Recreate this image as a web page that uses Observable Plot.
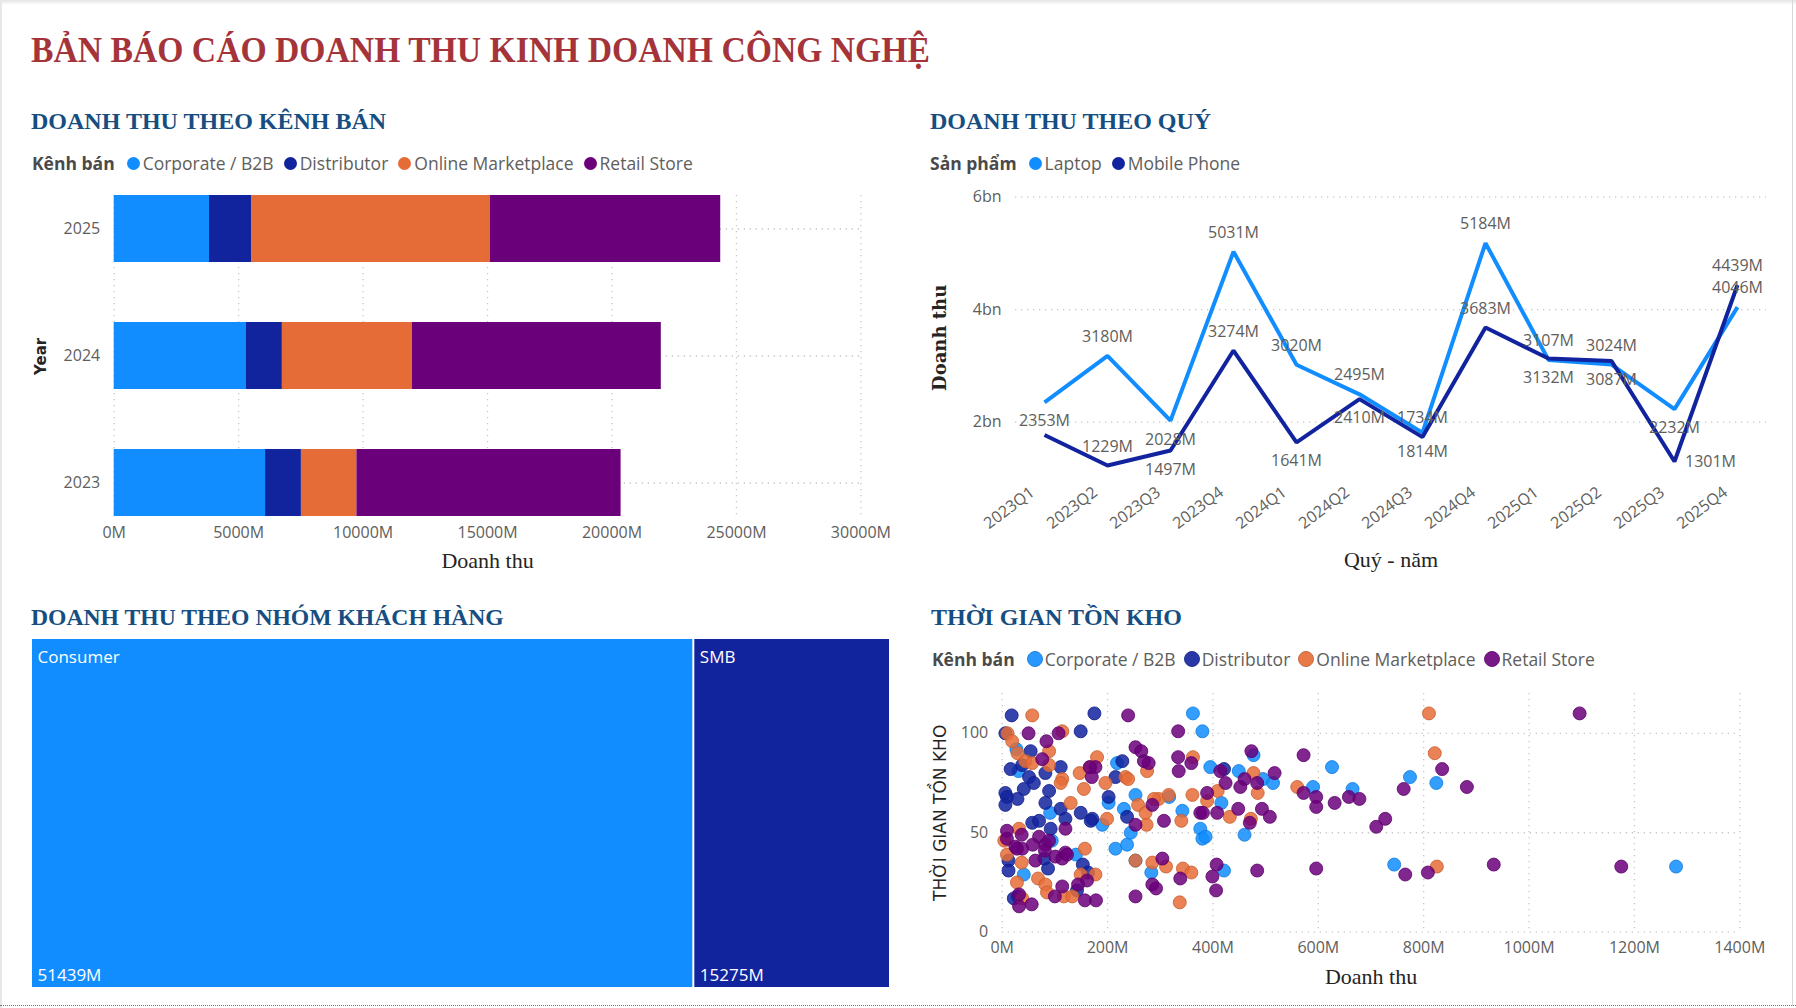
<!DOCTYPE html>
<html>
<head>
<meta charset="utf-8">
<script src="https://cdn.jsdelivr.net/npm/d3@7"></script>
<script src="https://cdn.jsdelivr.net/npm/@observablehq/plot@0.6"></script>
<style>
  html, body { margin: 0; padding: 0; background: #fff; }
  #page { position: relative; width: 1796px; height: 1008px; overflow: hidden; background: #fff;
          font-family: "Open Sans", "Noto Sans", sans-serif; }
  .abs { position: absolute; }
  .serif { font-family: "Liberation Serif", serif; font-weight: bold; white-space: nowrap; line-height: 1; }
  .main-title { color: #A4343A; font-size: 36px; transform: scaleX(0.935); transform-origin: 0 0; }
  .sec-title { color: #164E82; font-size: 24px; transform-origin: 0 0; }
  .legend { display: flex; align-items: center; height: 24px; white-space: nowrap; font-size: 17.5px; color: #605E5C; }
  .legend .lt { font-weight: bold; color: #4A4A4A; margin-right: 12px; }
  .legend .dot { border-radius: 50%; display: inline-block; flex: none; }
  .frame-l { left: 0; top: 0; width: 2px; height: 1008px; background: #E8E8E8; }
  .frame-r { left: 1792px; top: 0; width: 1px; height: 1006px; background: #D8D8D8; }
  .frame-t { left: 0; top: 0; width: 1796px; height: 5px; background: linear-gradient(#E4E4E4, #ffffff); }
  .frame-b { left: 0; top: 1005px; width: 1796px; height: 0; border-top: 1.5px dotted #777; }
</style>
</head>
<body>
<div id="page">
  <div class="abs frame-t"></div>
  <div class="abs frame-l"></div>
  <div class="abs frame-r"></div>
  <div class="abs frame-b"></div>
</div>
<script>
// ---------------- DATA ----------------
const channels = ["Corporate / B2B", "Distributor", "Online Marketplace", "Retail Store"];
const channelColors = ["#118DFF", "#12239E", "#E66C37", "#6B007B"];

// Revenue by channel and year (million)
const years = ["2025", "2024", "2023"];
const revCorporate   = [3829, 5315, 6081];
const revDistributor = [1689, 1442, 1441];
const revOnline      = [9593, 5224, 2229];
const revRetail      = [9257, 10000, 10614];
const barTicks = [0, 5000, 10000, 15000, 20000, 25000, 30000];

// Revenue by quarter (million)
const products = ["Laptop", "Mobile Phone"];
const productColors = ["#118DFF", "#12239E"];
const quarters = ["2023Q1","2023Q2","2023Q3","2023Q4","2024Q1","2024Q2","2024Q3","2024Q4","2025Q1","2025Q2","2025Q3","2025Q4"];
const laptopRevenue = [2353, 3180, 2028, 5031, 3020, 2495, 1814, 5184, 3107, 3024, 2232, 4046];
const mobileRevenue = [1773, 1229, 1497, 3274, 1641, 2410, 1734, 3683, 3132, 3087, 1301, 4439];
const laptopLabelSide = ["below","above","below","above","above","above","below","above","above","above","below","above"];
const mobileLabelSide = ["none","above","below","above","below","below","above","above","below","below","right","above"];
const lineTicks = [2000, 4000, 6000];

// Revenue by customer group (million)
const segments = ["Consumer", "SMB"];
const segmentRevenue = [51439, 15275];
const segmentColors = ["#118DFF", "#12239E"];

// Inventory time vs revenue: [revenue (M), days]
const invCorporate = [[362,110],[380,101],[27,92],[31,81],[218,85],[202,65],[253,69],[231,62],[317,68],[342,61],[376,52],[190,54],[94,46],[140,39],[41,29],[215,42],[237,44],[244,50],[253,36],[283,30],[380,47],[91,60],[477,89],[626,83],[774,78],[395,83],[449,81],[495,77],[514,75],[416,65],[590,73],[665,72],[386,48],[460,49],[421,31],[744,34],[824,75],[1279,33]];
const invDistributor = [[18,109],[175,110],[6,100],[149,101],[54,91],[16,82],[38,84],[111,83],[82,80],[51,78],[60,75],[41,72],[6,70],[9,68],[29,67],[6,64],[89,71],[82,65],[111,62],[149,60],[171,57],[202,68],[215,78],[228,86],[57,55],[70,56],[120,57],[92,52],[168,56],[12,36],[12,31],[87,32],[153,34],[142,21],[22,17],[30,18],[80,37],[163,30],[421,82],[237,58]];
const invOnline = [[57,109],[810,110],[10,100],[19,96],[114,101],[29,90],[44,86],[57,85],[89,91],[89,84],[114,77],[111,75],[147,80],[168,83],[180,88],[196,75],[155,72],[130,65],[234,78],[239,77],[258,64],[297,67],[316,69],[361,69],[362,88],[275,81],[32,52],[199,57],[274,54],[340,56],[37,35],[157,42],[149,29],[177,29],[68,27],[82,24],[85,20],[117,18],[133,18],[28,25],[253,36],[285,35],[311,33],[343,32],[359,30],[337,15],[409,71],[389,66],[485,70],[560,73],[477,80],[432,58],[472,57],[821,90],[825,33],[9,39],[4,46],[38,17],[272,60],[288,67]];
const invRetail = [[239,109],[1096,110],[50,100],[107,100],[334,101],[84,96],[76,87],[253,93],[264,91],[269,86],[278,85],[177,83],[170,78],[166,83],[285,64],[334,88],[359,85],[335,81],[376,60],[120,52],[253,54],[307,56],[9,51],[9,47],[37,49],[25,43],[38,42],[58,44],[70,48],[82,44],[81,41],[63,36],[101,38],[114,37],[120,40],[114,23],[144,24],[161,26],[100,18],[157,16],[178,16],[32,19],[56,14],[32,13],[253,18],[285,24],[292,22],[304,37],[338,27],[473,91],[572,89],[414,81],[517,80],[424,75],[460,77],[452,73],[484,75],[389,70],[572,70],[596,68],[596,63],[631,65],[658,68],[678,67],[727,57],[710,53],[381,60],[408,60],[448,62],[493,62],[508,58],[470,55],[407,34],[399,28],[406,21],[484,31],[596,32],[765,29],[762,72],[835,82],[882,73],[808,30],[933,34],[1175,33],[89,46],[123,39],[28,42]];
const invTicksX = [0, 200, 400, 600, 800, 1000, 1200, 1400];
const invTicksY = [0, 50, 100];

// ---------------- HELPERS ----------------
const page = document.getElementById("page");
function place(el, left, top) {
  el.style.position = "absolute"; el.style.left = left + "px"; el.style.top = top + "px";
  page.appendChild(el); return el;
}
function textDiv(cls, txt, left, top) {
  const d = document.createElement("div"); d.className = "serif " + cls; d.textContent = txt;
  return place(d, left, top);
}
function legend(title, names, colors, left, top, dotSize, gap, itemGap, outlined) {
  const d = document.createElement("div"); d.className = "legend";
  const t = document.createElement("span"); t.className = "lt"; t.textContent = title; d.appendChild(t);
  names.forEach((n, i) => {
    const dot = document.createElement("span"); dot.className = "dot";
    dot.style.width = dot.style.height = dotSize + "px";
    dot.style.background = colors[i];
    if (outlined) { dot.style.boxSizing = "border-box"; dot.style.border = "1.5px solid " + d3.color(colors[i]).darker(0.5); dot.style.opacity = 0.9; }
    dot.style.marginRight = gap + "px";
    d.appendChild(dot);
    const s = document.createElement("span"); s.textContent = n;
    if (i < names.length - 1) s.style.marginRight = itemGap + "px";
    d.appendChild(s);
  });
  return place(d, left, top);
}
const grid = { stroke: "#C8C6C4", strokeWidth: 1.3, strokeDasharray: "1.3,4.7", strokeOpacity: 1 };
const baseStyle = { fontFamily: "Open Sans", fontSize: "16px", color: "#605E5C", background: "transparent", overflow: "visible" };
const axisTitle = { fontFamily: "Liberation Serif", fontSize: 22, fill: "#252423", textAnchor: "middle", lineAnchor: "middle" };

// ---------------- TITLES ----------------
textDiv("main-title", "BẢN BÁO CÁO DOANH THU KINH DOANH CÔNG NGHỆ", 31, 31.5);
textDiv("sec-title", "DOANH THU THEO KÊNH BÁN", 31, 109);
textDiv("sec-title", "DOANH THU THEO QUÝ", 930, 109);
const t3 = textDiv("sec-title", "DOANH THU THEO NHÓM KHÁCH HÀNG", 31, 605);
t3.style.transform = "scaleX(0.985)";
textDiv("sec-title", "THỜI GIAN TỒN KHO", 931, 605);

legend("Kênh bán", channels, channelColors, 32, 151, 13, 3, 10, false);
legend("Sản phẩm", products, productColors, 930, 151, 13, 3, 10, false);
legend("Kênh bán", channels, channelColors, 932, 647, 16, 2, 8, true);

// ---------------- BAR CHART ----------------
const revByChannel = [revCorporate, revDistributor, revOnline, revRetail];
const barRows = years.flatMap((y, i) => channels.map((c, j) => ({ year: y, channel: c, value: revByChannel[j][i] })));
const barChart = Plot.plot({
  width: 900, height: 400,
  marginLeft: 113.7, marginRight: 39.6, marginTop: 15, marginBottom: 63.3,
  style: baseStyle,
  x: { domain: [0, 30000] },
  y: { domain: years, paddingInner: 0.47, paddingOuter: 0 },
  color: { domain: channels, range: channelColors },
  marks: [
    Plot.gridX(barTicks, grid),
    Plot.gridY(years, { y: d => d, ...grid }),
    Plot.barX(barRows, { x: "value", y: "year", fill: "channel" }),
    Plot.axisX(barTicks, { tickSize: 0, tickPadding: 9, tickFormat: d => d + "M", label: null }),
    Plot.axisY({ tickSize: 0, tickPadding: 14, label: null }),
    Plot.text(["Doanh thu"], { text: d => d, frameAnchor: "bottom", dy: 43.3, ...axisTitle }),
    Plot.text(["Year"], { text: d => d, frameAnchor: "left", dx: -72.7, rotate: -90, textAnchor: "middle", lineAnchor: "middle", fontFamily: "DejaVu Sans", fontWeight: "bold", fontSize: 15, fill: "#252423" })
  ]
});
place(barChart, 0, 180);

// ---------------- LINE CHART ----------------
const lineRows = quarters.flatMap((q, i) => [
  { q, product: "Laptop", value: laptopRevenue[i], side: laptopLabelSide[i] },
  { q, product: "Mobile Phone", value: mobileRevenue[i], side: mobileLabelSide[i] }
]);
const labelStyle = { x: "q", y: "value", text: d => d.value + "M", fill: "#605E5C", fontFamily: "Open Sans", fontSize: 16 };
const lineChart = Plot.plot({
  width: 876, height: 400,
  marginLeft: 95, marginRight: 30, marginTop: 16.7, marginBottom: 102.1,
  style: baseStyle,
  x: { type: "point", domain: quarters, padding: 0.39 },
  y: { domain: [1000, 6000] },
  color: { domain: products, range: productColors },
  marks: [
    Plot.gridY(lineTicks, grid),
    Plot.line(lineRows, { x: "q", y: "value", z: "product", stroke: "product", strokeWidth: 4, strokeLinejoin: "miter", strokeLinecap: "butt" }),
    Plot.text(lineRows.filter(d => d.side === "above"), { ...labelStyle, dy: -19 }),
    Plot.text(lineRows.filter(d => d.side === "below"), { ...labelStyle, dy: 19 }),
    Plot.text(lineRows.filter(d => d.side === "right"), { ...labelStyle, dx: 36 }),
    Plot.axisX({ tickSize: 0, tickPadding: 16, tickRotate: -37, dx: -12, dy: -4, label: null }),
    Plot.axisY(lineTicks, { tickSize: 0, tickPadding: 14, tickFormat: d => d / 1000 + "bn", label: null }),
    Plot.text(["Quý - năm"], { text: d => d, frameAnchor: "bottom", dy: 82, ...axisTitle }),
    Plot.text(["Doanh thu"], { text: d => d, frameAnchor: "left", dx: -75.5, rotate: -90, textAnchor: "middle", lineAnchor: "middle", fontFamily: "DejaVu Serif", fontWeight: "bold", fontSize: 18, fill: "#252423" })
  ]
});
place(lineChart, 920, 180);

// ---------------- TREEMAP ----------------
const segRows = segments.map((s, i) => ({ segment: s, value: segmentRevenue[i] }));
const segTotal = d3.sum(segmentRevenue);
const treemap = Plot.plot({
  width: 859, height: 348, margin: 0,
  style: { ...baseStyle, fontSize: "17px" },
  x: { domain: [0, segTotal], axis: null },
  y: { domain: [0, 1], axis: null },
  color: { domain: segments, range: segmentColors },
  marks: [
    Plot.rectX(segRows, { x: "value", y1: 0, y2: 1, fill: "segment", insetLeft: 1, insetRight: 1 }),
    Plot.text(segRows, Plot.stackX1({ x: "value", y: 1, text: "segment", textAnchor: "start", lineAnchor: "middle", dx: 6, dy: 18, fill: "white", fontFamily: "Open Sans", fontSize: 17 })),
    Plot.text(segRows, Plot.stackX1({ x: "value", y: 0, text: d => d.value + "M", textAnchor: "start", lineAnchor: "middle", dx: 6, dy: -12, fill: "white", fontFamily: "Open Sans", fontSize: 17 }))
  ]
});
place(treemap, 31, 639);

// ---------------- SCATTER ----------------
const invSets = [invCorporate, invDistributor, invOnline, invRetail];
const scatter = Plot.plot({
  width: 876, height: 328,
  marginLeft: 81.7, marginRight: 56.7, marginTop: 13, marginBottom: 76.3,
  style: baseStyle,
  x: { domain: [0, 1400] },
  y: { domain: [0, 120] },
  marks: [
    Plot.gridX(invTicksX, grid),
    Plot.gridY(invTicksY, grid),
    ...invSets.map((set, i) => Plot.dot(set, {
      x: d => d[0], y: d => d[1], r: 6.5,
      fill: channelColors[i], fillOpacity: 0.85,
      stroke: d3.color(channelColors[i]).darker(0.4).formatHex(), strokeWidth: 1, strokeOpacity: 0.8
    })),
    Plot.axisX(invTicksX, { tickSize: 0, tickPadding: 9, tickFormat: d => d + "M", label: null }),
    Plot.axisY(invTicksY, { tickSize: 0, tickPadding: 14, label: null }),
    Plot.text(["Doanh thu"], { text: d => d, frameAnchor: "bottom", dy: 45, ...axisTitle }),
    Plot.text(["THỜI GIAN TỒN KHO"], { text: d => d, frameAnchor: "left", dx: -62, rotate: -90, textAnchor: "middle", lineAnchor: "middle", fontFamily: "DejaVu Sans", fontSize: 17, fill: "#252423", letterSpacing: "0.6px" })
  ]
});
place(scatter, 920, 680);
</script>
</body>
</html>
